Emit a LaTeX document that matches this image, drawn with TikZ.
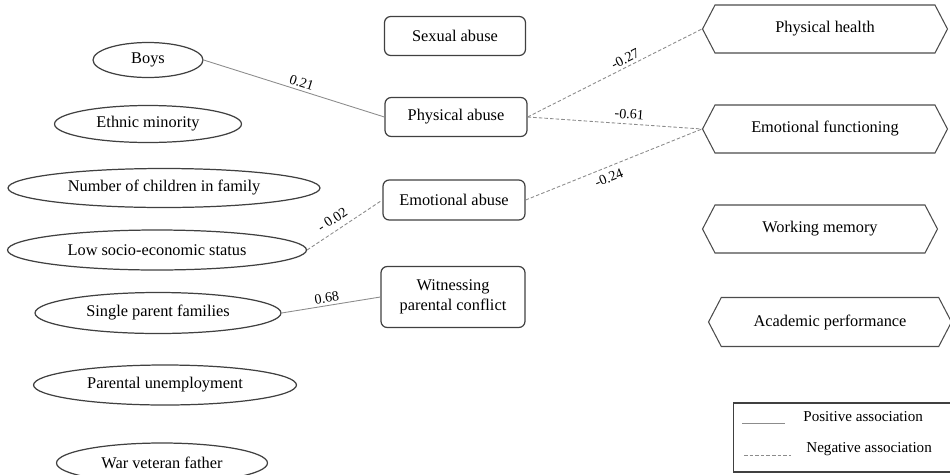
\documentclass[tikz,border=0pt]{standalone}
\usepackage{fontspec}
\setmainfont{Liberation Serif}
\usetikzlibrary{shapes.geometric,shapes.symbols}

\begin{document}
\begin{tikzpicture}[x=0.02cm,y=-0.02cm,
  factor/.style={ellipse,draw=black!75,line width=0.7pt,inner sep=0pt,font=\fontsize{9.3}{11}\selectfont},
  abuse/.style={rectangle,rounded corners=3.5pt,draw=black!75,line width=0.7pt,inner sep=0pt,align=center,font=\fontsize{9.3}{11.5}\selectfont},
  outcome/.style={signal,signal to=west and east,signal pointer angle=125,draw=black!70,line width=0.6pt,inner sep=0pt,font=\fontsize{9.3}{11}\selectfont},
  posline/.style={draw=black!45,line width=0.5pt},
  negline/.style={draw=black!45,line width=0.5pt,dash pattern=on 2pt off 1.2pt},
  coef/.style={font=\fontsize{8}{9}\selectfont,inner sep=1.5pt}]
  \useasboundingbox (0,0) rectangle (950,474);
  \clip (0,0) rectangle (950,474);

  % background characteristics
  \node[factor,minimum width=2.2cm,minimum height=0.7cm] (boys) at (148,60) {Boys};
  \node[factor,minimum width=3.74cm,minimum height=0.74cm] (ethnic) at (148,124) {Ethnic minority};
  \node[factor,minimum width=6.24cm,minimum height=0.78cm] (children) at (164,188) {Number of children in family};
  \node[factor,minimum width=5.98cm,minimum height=0.8cm] (ses) at (157,250) {Low socio-economic status};
  \node[factor,minimum width=4.92cm,minimum height=0.82cm] (single) at (158,313) {Single parent families};
  \node[factor,minimum width=5.26cm,minimum height=0.8cm] (unemp) at (165,385) {Parental unemployment};
  \node[factor,minimum width=4.22cm,minimum height=0.8cm] (veteran) at (162,463) {War veteran father};

  % maltreatment
  \node[abuse,minimum width=2.82cm,minimum height=0.78cm] (sexual) at (455,36) {Sexual abuse};
  \node[abuse,minimum width=2.84cm,minimum height=0.78cm] (physical) at (456,117) {Physical abuse};
  \node[abuse,minimum width=2.84cm,minimum height=0.8cm] (emotional) at (454,200) {Emotional abuse};
  \node[abuse,minimum width=2.88cm,minimum height=1.22cm] (witness) at (453,297) {Witnessing\\parental conflict};

  % outcomes
  \node[outcome,minimum width=4.9cm,minimum height=0.96cm] (health) at (825,29) {Physical health};
  \node[outcome,minimum width=4.9cm,minimum height=0.96cm] (emofunc) at (825,129) {Emotional functioning};
  \node[outcome,minimum width=4.7cm,minimum height=0.96cm] (memory) at (820,229) {Working memory};
  \node[outcome,minimum width=4.86cm,minimum height=0.98cm] (academic) at (830,322) {Academic performance};

  % associations
  \draw[posline] (boys.east) -- node[coef,pos=0.53,above,sloped] {0.21} (physical.west);
  \draw[negline] (physical.east) -- node[coef,pos=0.58,above,sloped] {-0.27} (health.west);
  \draw[negline] (physical.east) -- node[coef,pos=0.58,above=1pt,sloped] {-0.61} (emofunc.west);
  \draw[negline] (emotional.east) -- node[coef,pos=0.45,below=1.5pt,sloped] {-0.24} (emofunc.west);
  \draw[negline] (ses.east) -- node[coef,pos=0.42,above=2pt,sloped] {-\kern1.8pt0.02} (emotional.west);
  \draw[posline] (single.east) -- node[coef,pos=0.47,above,sloped] {0.68} (witness.west);

  % legend
  \node[draw=black!75,line width=0.6pt,minimum width=4.4cm,minimum height=1.38cm,inner sep=0pt] (legend) at (843,437.5) {};
  \coordinate (p1) at (742,423);
  \coordinate (p2) at (785,423);
  \coordinate (n1) at (744,455);
  \coordinate (n2) at (791,455);
  \draw[posline] (p1) -- (p2);
  \draw[negline] (n1) -- (n2);
  \node[anchor=west,font=\fontsize{8.6}{10}\selectfont,inner sep=0pt] (postext) at (803,417) {Positive association};
  \node[anchor=west,font=\fontsize{8.6}{10}\selectfont,inner sep=0pt] (negtext) at (806,449) {Negative association};
\end{tikzpicture}
\end{document}
